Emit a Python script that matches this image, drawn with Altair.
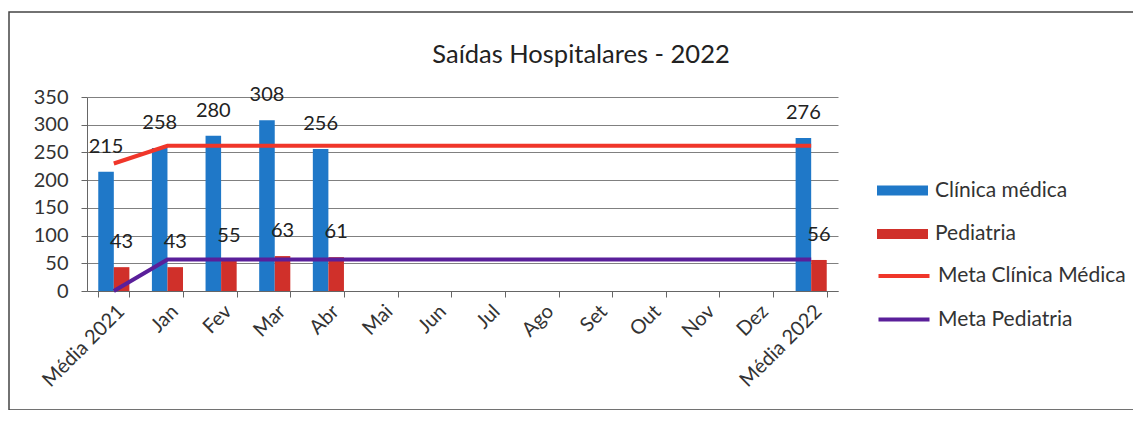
import altair as alt
import pandas as pd

categories = ["Média 2021", "Jan", "Fev", "Mar", "Abr", "Mai", "Jun", "Jul",
              "Ago", "Set", "Out", "Nov", "Dez", "Média 2022"]
clinica = [215, 258, 280, 308, 256, None, None, None, None, None, None, None, None, 276]
pediatria = [43, 43, 55, 63, 61, None, None, None, None, None, None, None, None, 56]
meta_clinica = [230, 262, 262, 262, 262, 262, 262, 262, 262, 262, 262, 262, 262, 262]
meta_pediatria = [0, 57, 57, 57, 57, 57, 57, 57, 57, 57, 57, 57, 57, 57]
y_ticks = [0, 50, 100, 150, 200, 250, 300, 350]
title_text = "Saídas Hospitalares - 2022"

bar_series = ["Clínica médica", "Pediatria"]
line_series = ["Meta Clínica Médica", "Meta Pediatria"]
bar_colors = ["#1f78c8", "#d0302a"]
line_colors = ["#f0362a", "#5a1f9a"]

FONT = "Lato"

rows_b = []
for c, v1, v2 in zip(categories, clinica, pediatria):
    rows_b.append({"cat": c, "serie": bar_series[0], "valor": v1})
    rows_b.append({"cat": c, "serie": bar_series[1], "valor": v2})
df_b = pd.DataFrame(rows_b).dropna()

rows_l = []
for c, m1, m2 in zip(categories, meta_clinica, meta_pediatria):
    rows_l.append({"cat": c, "meta": line_series[0], "valor": m1})
    rows_l.append({"cat": c, "meta": line_series[1], "valor": m2})
df_l = pd.DataFrame(rows_l)

x_axis = alt.Axis(labelAngle=-45, labelFontSize=20, labelColor="#333",
                  labelFont=FONT, tickBand="extent", tickSize=6,
                  tickColor="#666", domainColor="#666", labelPadding=4,
                  grid=False, labelOverlap=False)
y_axis = alt.Axis(values=y_ticks, labelFontSize=20, labelColor="#333",
                  labelFont=FONT, tickSize=6, tickColor="#666",
                  domainColor="#666", labelPadding=13, gridColor="#808080",
                  gridWidth=1, labelOverlap=False)
x_scale = alt.Scale(paddingInner=0.42, paddingOuter=0.21)
y_scale = alt.Scale(domain=[0, 350], nice=False)


def xe():
    return alt.X("cat:N", sort=categories, title=None, scale=x_scale, axis=x_axis)


def ye():
    return alt.Y("valor:Q", title=None, scale=y_scale, axis=y_axis)


legend_common = dict(title=None, orient="none", labelFontSize=21, labelFont=FONT,
                     labelColor="#333", labelLimit=400, padding=0, symbolSize=400,
                     labelOffset=22, rowPadding=21.5)

bars = alt.Chart(df_b).mark_bar().encode(
    x=xe(),
    xOffset=alt.XOffset("serie:N", sort=bar_series),
    y=ye(),
    color=alt.Color("serie:N", sort=bar_series,
                    scale=alt.Scale(domain=bar_series, range=bar_colors),
                    legend=alt.Legend(legendX=805, legendY=83,
                                      symbolType="M-2.55,-0.5H2.55V0.5H-2.55Z",
                                      symbolStrokeWidth=0, **legend_common)),
)

lines = alt.Chart(df_l).mark_line(strokeWidth=4).encode(
    x=xe(),
    y=ye(),
    stroke=alt.Stroke("meta:N", sort=line_series,
                      scale=alt.Scale(domain=line_series, range=line_colors),
                      legend=alt.Legend(legendX=805, legendY=167,
                                        symbolType="M-2.55,0H2.55",
                                        symbolStrokeWidth=4, **legend_common)),
    detail="meta:N",
)

labels = alt.Chart(df_b).mark_text(
    baseline="middle", dy=-25, fontSize=20, font=FONT, color="#222"
).encode(
    x=xe(),
    xOffset=alt.XOffset("serie:N", sort=bar_series),
    y=ye(),
    text=alt.Text("valor:Q", format="d"),
)

frame = alt.Chart(pd.DataFrame({"k": [0]})).mark_rect(
    fill=None, stroke="#444", strokeWidth=1.5
).encode(
    x=alt.value(-78), x2=alt.value(1050), y=alt.value(-85), y2=alt.value(313)
)

title = alt.Chart(pd.DataFrame({"t": [title_text]})).mark_text(
    fontSize=25.5, font=FONT, color="#222", baseline="middle", align="center"
).encode(x=alt.value(494), y=alt.value(-42), text="t:N")

chart = alt.layer(frame, title, bars, lines, labels).properties(
    width=751, height=194,
    padding={"left": 79, "top": 89, "right": 295, "bottom": 119},
    autosize=alt.AutoSizeParams(type="none"),
).configure_view(stroke=None)

chart.save("out.html", embed_options={"renderer": "svg", "actions": False})
